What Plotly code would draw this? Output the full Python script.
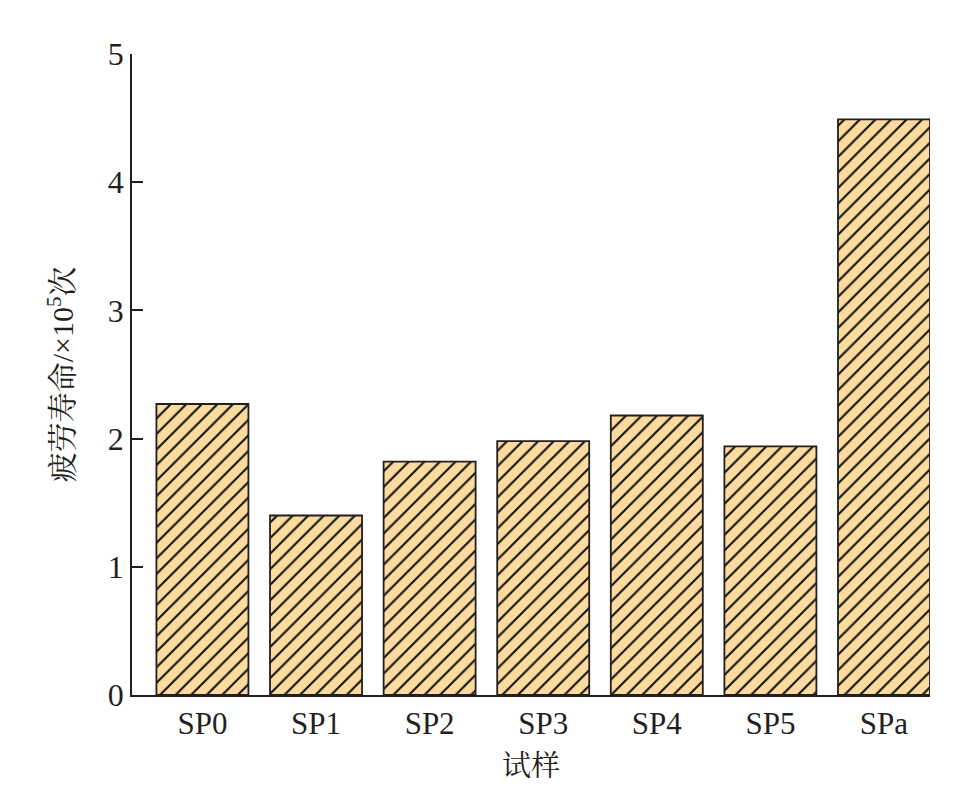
import plotly.graph_objects as go

categories = ["SP0", "SP1", "SP2", "SP3", "SP4", "SP5", "SPa"]
fatigue_life = [2.27, 1.40, 1.82, 1.98, 2.18, 1.94, 4.49]
y_ticks = [0, 1, 2, 3, 4, 5]

fig = go.Figure()
fig.add_trace(go.Bar(
    x=categories,
    y=fatigue_life,
    marker=dict(
        color="#FDDA9D",
        line=dict(color="#231F20", width=1.8),
        pattern=dict(shape="/", size=11, solidity=0.19, fgcolor="#111111",
                     fgopacity=1, bgcolor="#FDDA9D", fillmode="replace"),
    ),
    width=0.81,
))

serif = "Liberation Serif"
cjk = "Liberation Serif, Noto Serif CJK SC, Noto Sans CJK SC"
fig.update_layout(
    width=964, height=793,
    margin=dict(l=124, r=42, t=46, b=106),
    plot_bgcolor="white", paper_bgcolor="white",
    showlegend=False,
    font=dict(family=serif, size=30, color="#231F20"),
    xaxis=dict(
        range=[-0.62, 6.405],
        showline=True, linecolor="#231F20", linewidth=1.8,
        ticks="", showgrid=False, zeroline=False,
        tickfont=dict(size=31, family=serif, color="#231F20"),
        title=dict(text="试样", font=dict(size=29, family=cjk, color="#231F20"), standoff=16),
    ),
    yaxis=dict(
        range=[0, 5],
        tickvals=y_ticks,
        showline=True, linecolor="#231F20", linewidth=1.8,
        ticks="inside", ticklen=11, tickwidth=1.8, tickcolor="#231F20",
        showgrid=False, zeroline=False,
        tickfont=dict(size=32, family=serif, color="#231F20"),
        title=dict(text="疲劳寿命/×10<sup>5</sup>次", font=dict(size=30, family=cjk, color="#231F20"), standoff=25),
    ),
)

fig.write_html("out.html")
